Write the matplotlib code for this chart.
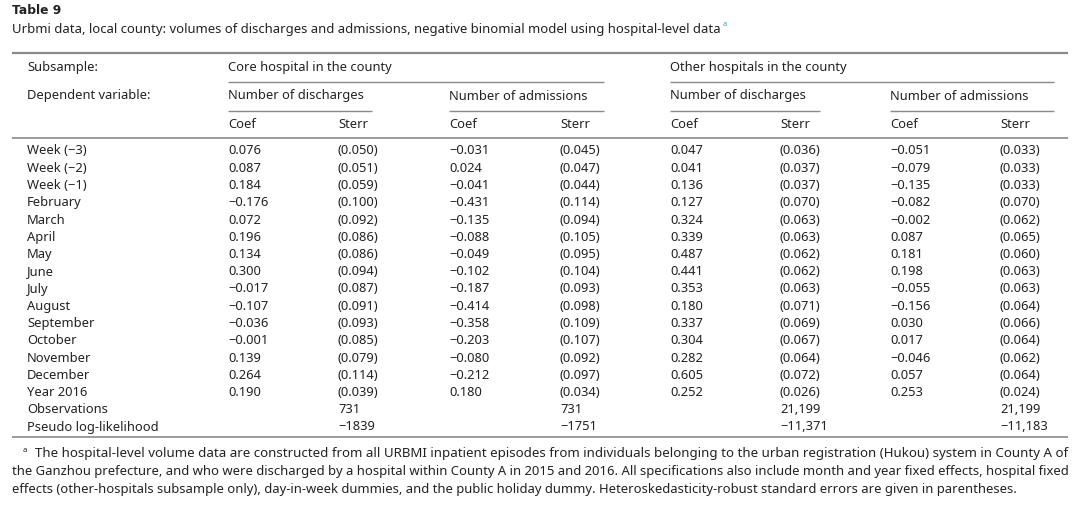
import matplotlib.pyplot as plt

# Table 9 -- rebuilt as text on a blank pixel-space canvas

row_labels = ["Week (−3)", "Week (−2)", "Week (−1)", "February", "March", "April",
              "May", "June", "July", "August", "September", "October", "November",
              "December", "Year 2016", "Observations", "Pseudo log-likelihood"]

core_dis_coef = ["0.076", "0.087", "0.184", "−0.176", "0.072", "0.196", "0.134", "0.300",
                 "−0.017", "−0.107", "−0.036", "−0.001", "0.139", "0.264", "0.190", "", ""]
core_dis_se = ["(0.050)", "(0.051)", "(0.059)", "(0.100)", "(0.092)", "(0.086)", "(0.086)",
               "(0.094)", "(0.087)", "(0.091)", "(0.093)", "(0.085)", "(0.079)", "(0.114)",
               "(0.039)", "731", "−1839"]
core_adm_coef = ["−0.031", "0.024", "−0.041", "−0.431", "−0.135", "−0.088", "−0.049", "−0.102",
                 "−0.187", "−0.414", "−0.358", "−0.203", "−0.080", "−0.212", "0.180", "", ""]
core_adm_se = ["(0.045)", "(0.047)", "(0.044)", "(0.114)", "(0.094)", "(0.105)", "(0.095)",
               "(0.104)", "(0.093)", "(0.098)", "(0.109)", "(0.107)", "(0.092)", "(0.097)",
               "(0.034)", "731", "−1751"]
oth_dis_coef = ["0.047", "0.041", "0.136", "0.127", "0.324", "0.339", "0.487", "0.441",
                "0.353", "0.180", "0.337", "0.304", "0.282", "0.605", "0.252", "", ""]
oth_dis_se = ["(0.036)", "(0.037)", "(0.037)", "(0.070)", "(0.063)", "(0.063)", "(0.062)",
              "(0.062)", "(0.063)", "(0.071)", "(0.069)", "(0.067)", "(0.064)", "(0.072)",
              "(0.026)", "21,199", "−11,371"]
oth_adm_coef = ["−0.051", "−0.079", "−0.135", "−0.082", "−0.002", "0.087", "0.181", "0.198",
                "−0.055", "−0.156", "0.030", "0.017", "−0.046", "0.057", "0.253", "", ""]
oth_adm_se = ["(0.033)", "(0.033)", "(0.033)", "(0.070)", "(0.062)", "(0.065)", "(0.060)",
              "(0.063)", "(0.063)", "(0.064)", "(0.066)", "(0.064)", "(0.062)", "(0.064)",
              "(0.024)", "21,199", "−11,183"]

columns = [core_dis_coef, core_dis_se, core_adm_coef, core_adm_se,
           oth_dis_coef, oth_dis_se, oth_adm_coef, oth_adm_se]

title = "Table 9"
subtitle = ("Urbmi data, local county: volumes of discharges and admissions, "
            "negative binomial model using hospital-level data")
footnote = [
    "The hospital-level volume data are constructed from all URBMI inpatient episodes from individuals "
    "belonging to the urban registration (Hukou) system in County A of",
    "the Ganzhou prefecture, and who were discharged by a hospital within County A in 2015 and 2016. "
    "All specifications also include month and year fixed effects, hospital fixed",
    "effects (other-hospitals subsample only), day-in-week dummies, and the public holiday dummy. "
    "Heteroskedasticity-robust standard errors are given in parentheses.",
]

FONT = "Noto Sans"
FS = 9.3
INK = "#222222"
RULE = "#8a8a8a"

fig = plt.figure(figsize=(10.8, 5.05), dpi=100)
ax = fig.add_axes([0, 0, 1, 1])
ax.set_xlim(0, 1080)
ax.set_ylim(505, 0)
ax.axis("off")


def txt(x, y, s, **kw):
    kw.setdefault("fontsize", FS)
    kw.setdefault("family", FONT)
    kw.setdefault("color", INK)
    return ax.text(x, y, s, va="center", ha="left", **kw)


def rule(x0, x1, y, lw=1.0):
    ax.plot([x0, x1], [y, y], color=RULE, lw=lw, solid_capstyle="butt")


def fit_width(t, target_px):
    # shrink / grow a text's font size until it spans target_px
    r = fig.canvas.get_renderer()
    for _ in range(3):
        w = t.get_window_extent(r).width
        t.set_fontsize(t.get_fontsize() * target_px / w)
    return t.get_fontsize()


txt(12, 11, title, fontweight="bold", fontsize=8.8, family="DejaVu Sans")
sub = txt(12, 29, subtitle)
fit_width(sub, 709)
ax.text(723, 25, "a", fontsize=5.5, color="#3aa0c8", family=FONT, va="center")

rule(12, 1068, 53, 1.6)

col_x = [228, 338, 449, 560, 670, 780, 890, 1000]

txt(27, 67, "Subsample:")
txt(228, 67, "Core hospital in the county")
txt(670, 67, "Other hospitals in the county")
rule(228, 604, 82)
rule(670, 1054, 82)

txt(27, 96, "Dependent variable:")
for x0, x1, name in [(228, 372, "Number of discharges"), (449, 604, "Number of admissions"),
                     (670, 820, "Number of discharges"), (890, 1054, "Number of admissions")]:
    txt(x0, 96, name)
    rule(x0, x1, 111)

for i, x in enumerate(col_x):
    txt(x, 124, "Coef" if i % 2 == 0 else "Sterr")
rule(12, 1068, 138, 1.2)

row_y0, row_dy = 151, 17.25
for r, label in enumerate(row_labels):
    y = row_y0 + r * row_dy
    txt(27, y, label)
    for x, col in zip(col_x, columns):
        if col[r]:
            txt(x, y, col[r])

rule(12, 1068, 437, 1.2)

ax.text(23, 450, "a", fontsize=5.5, color=INK, family=FONT, va="center")
fn = []
for k, line in enumerate(footnote):
    x = 35 if k == 0 else 12
    fn.append(txt(x, 454 + k * 17.5, line))
fit_width(fn[0], 1068 - 35)
fs2 = fit_width(fn[1], 1068 - 12)
fn[2].set_fontsize(fs2)

fig.savefig("out.png", dpi=100)
